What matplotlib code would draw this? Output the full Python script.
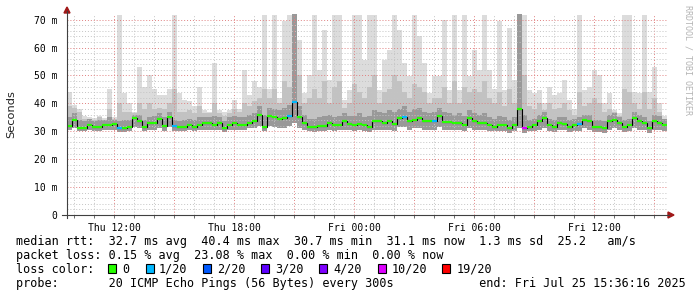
import numpy as np
import matplotlib
matplotlib.use('Agg')
import matplotlib.pyplot as plt
from matplotlib.lines import Line2D
from matplotlib.patches import Polygon, Rectangle

W, H = 697, 297
MONO = 'DejaVu Sans Mono'

# zeitachse: stunden ab Do 00:00, 15-min Schritte (120 Werte = 30 h)
t_start = 9.65
step_h = 0.25

# median rtt in ms
median = [
    32.0, 34.0, 31.1, 31.1, 32.3, 31.7, 31.7, 32.3, 32.3, 32.6,
    31.1, 31.1, 31.7, 34.7, 33.5, 31.7, 32.9, 32.9, 34.5, 32.0,
    35.0, 31.8, 31.7, 31.7, 32.3, 31.7, 32.3, 32.9, 32.9, 32.3,
    32.9, 31.1, 32.3, 32.9, 32.3, 32.3, 32.9, 33.5, 36.0, 31.5,
    35.3, 35.0, 34.5, 34.7, 35.5, 40.4, 35.0, 33.0, 31.7, 31.7,
    32.0, 32.0, 33.0, 32.3, 32.3, 33.5, 32.6, 32.3, 32.6, 32.3,
    31.7, 33.5, 33.5, 32.9, 33.5, 32.5, 34.7, 35.2, 33.5, 34.1,
    34.7, 33.5, 33.5, 33.5, 35.3, 33.4, 33.4, 32.9, 32.9, 32.3,
    34.7, 33.5, 32.9, 32.9, 32.3, 31.7, 32.3, 32.3, 31.1, 32.3,
    38.0, 31.1, 31.7, 32.3, 33.5, 34.7, 32.3, 31.7, 33.0, 32.6,
    31.7, 32.3, 32.5, 34.1, 33.5, 31.7, 31.7, 31.1, 33.5, 34.1,
    32.9, 31.7, 32.3, 34.7, 33.5, 32.9, 31.1, 33.5, 33.0, 32.3,
]

# smoke: kleinster ping, 75 %, 90 %, groesster ping (ms)
ping_min = [
    30.5, 31.0, 30.0, 30.0, 30.5, 30.0, 30.0, 30.5, 30.5, 30.5,
    29.8, 29.8, 30.0, 31.5, 31.0, 30.0, 30.5, 30.5, 31.0, 30.0,
    31.5, 30.0, 30.0, 30.0, 30.5, 30.0, 30.5, 30.5, 30.5, 30.5,
    30.5, 29.8, 30.5, 30.5, 30.5, 30.5, 31.0, 31.0, 32.0, 30.0,
    32.0, 31.5, 31.0, 31.0, 32.0, 33.0, 31.0, 30.5, 30.0, 29.8,
    30.0, 30.0, 30.5, 30.0, 30.5, 30.5, 30.5, 30.0, 30.5, 30.0,
    29.8, 30.5, 30.5, 30.5, 30.5, 30.0, 31.5, 31.5, 30.5, 31.0,
    31.0, 30.5, 30.5, 30.5, 31.5, 30.5, 30.5, 30.5, 30.5, 30.0,
    31.0, 30.5, 30.5, 30.5, 30.0, 30.0, 30.0, 30.0, 29.5, 30.0,
    31.0, 29.5, 30.0, 30.0, 30.5, 31.0, 30.0, 29.8, 30.5, 30.5,
    29.8, 30.0, 30.0, 31.0, 30.5, 29.8, 29.8, 29.5, 30.5, 31.0,
    30.5, 29.8, 30.0, 31.0, 30.5, 30.5, 29.5, 30.5, 30.5, 30.0,
]
ping_p75 = [
    35.0, 36.5, 34.0, 33.5, 34.5, 33.5, 34.0, 34.0, 35.0, 34.0,
    33.5, 34.0, 34.0, 36.0, 36.0, 34.0, 35.0, 35.5, 36.5, 35.0,
    37.0, 34.0, 33.5, 34.0, 34.5, 34.0, 35.0, 35.0, 35.0, 35.5,
    35.0, 33.5, 35.0, 35.5, 35.0, 35.0, 36.0, 36.5, 39.0, 36.0,
    38.5, 38.0, 37.5, 38.5, 39.5, 72.0, 39.0, 36.0, 34.5, 34.5,
    35.0, 35.5, 36.0, 35.0, 35.5, 36.5, 35.5, 35.5, 36.5, 35.0,
    35.5, 37.5, 37.0, 36.5, 37.5, 37.0, 38.0, 39.0, 37.0, 38.0,
    38.5, 37.0, 36.5, 37.0, 38.5, 37.0, 36.5, 36.0, 36.5, 35.5,
    37.5, 36.5, 36.0, 36.5, 35.0, 34.5, 35.5, 35.0, 34.0, 35.0,
    72.0, 36.0, 34.0, 34.5, 36.0, 37.0, 34.5, 34.0, 35.0, 35.0,
    34.0, 34.5, 35.0, 36.0, 36.0, 34.0, 34.0, 33.5, 36.0, 36.5,
    35.0, 34.0, 34.5, 37.0, 36.0, 35.0, 33.5, 36.0, 35.5, 34.5,
]
ping_p90 = [
    39.0, 38.5, 37.0, 34.5, 34.5, 34.0, 35.0, 34.0, 38.0, 34.5,
    40.0, 37.0, 37.0, 36.5, 40.0, 38.0, 40.0, 38.0, 38.5, 38.0,
    40.0, 45.0, 37.0, 37.0, 37.5, 36.5, 39.0, 36.5, 36.5, 40.0,
    36.5, 35.5, 36.5, 38.0, 37.0, 40.0, 39.0, 41.0, 42.0, 45.0,
    42.0, 45.0, 40.0, 48.0, 46.0, 72.0, 50.0, 40.0, 42.0, 45.0,
    42.0, 48.0, 40.0, 46.0, 48.0, 38.5, 40.0, 47.0, 44.0, 42.0,
    46.0, 50.0, 40.0, 44.0, 45.0, 50.0, 48.0, 44.0, 42.0, 47.0,
    46.0, 44.0, 40.0, 42.0, 42.0, 46.0, 40.0, 48.0, 40.0, 46.0,
    44.0, 45.0, 44.0, 48.0, 42.0, 40.0, 44.0, 39.0, 45.0, 40.0,
    72.0, 50.0, 39.0, 38.0, 40.0, 37.5, 40.0, 38.0, 38.5, 40.0,
    37.5, 36.0, 44.0, 39.0, 40.0, 42.0, 40.0, 37.0, 38.0, 37.0,
    35.5, 45.0, 44.0, 40.0, 38.0, 44.0, 38.0, 42.0, 37.0, 34.5,
]
ping_max = [
    44.0, 39.5, 38.0, 35.3, 35.0, 34.7, 35.3, 34.7, 45.0, 35.0,
    71.8, 43.7, 40.0, 37.0, 53.0, 46.0, 50.0, 45.0, 43.0, 43.0,
    45.0, 71.8, 43.7, 41.3, 41.0, 39.0, 46.0, 37.7, 37.0, 54.4,
    37.7, 37.0, 37.7, 41.3, 38.0, 52.0, 43.0, 47.9, 46.0, 71.8,
    45.0, 71.8, 42.0, 69.5, 71.8, 71.8, 62.8, 43.7, 50.0, 71.8,
    52.0, 66.4, 48.5, 71.8, 71.8, 41.3, 44.9, 71.8, 71.8, 55.6,
    71.8, 71.8, 44.9, 55.6, 59.0, 71.8, 66.4, 54.4, 49.7, 71.8,
    64.0, 54.4, 43.7, 49.7, 49.7, 70.0, 44.9, 71.8, 44.9, 71.8,
    49.7, 59.0, 52.0, 71.8, 52.0, 45.0, 69.5, 44.9, 67.0, 48.5,
    71.8, 71.8, 44.9, 43.7, 44.9, 40.0, 46.0, 43.0, 43.7, 48.5,
    41.3, 38.0, 71.8, 44.9, 46.0, 52.0, 50.0, 40.0, 43.7, 37.7,
    36.5, 71.8, 71.8, 44.0, 43.7, 71.8, 44.0, 53.0, 40.0, 35.3,
]

# verlust (Index der Schritte mit Paketverlust, Stufe aus der Legende)
loss_bins = [10, 21, 44, 45, 67, 73, 91, 102]
loss_level = [1, 1, 1, 1, 1, 1, 5, 1]

loss_labels = ['0', '1/20', '2/20', '3/20', '4/20', '10/20', '19/20']
loss_colors = ['#26ff00', '#00b8ff', '#0059ff', '#5e00ff', '#7e00ff', '#dd00ff', '#ff0000']

x_ticks = [12, 18, 24, 30, 36]
x_tick_labels = ['Thu 12:00', 'Thu 18:00', 'Fri 00:00', 'Fri 06:00', 'Fri 12:00']
y_ticks = [0, 10, 20, 30, 40, 50, 60, 70]
y_tick_labels = ['0', '10 m', '20 m', '30 m', '40 m', '50 m', '60 m', '70 m']

legend_lines = [
    'median rtt:  32.7 ms avg  40.4 ms max  30.7 ms min  31.1 ms now  1.3 ms sd  25.2   am/s',
    'packet loss: 0.15 % avg  23.08 % max  0.00 % min  0.00 % now',
    'loss color:',
    'probe:       20 ICMP Echo Pings (56 Bytes) every 300s            end: Fri Jul 25 15:36:16 2025',
]

n = len(median)
edges = t_start + step_h * np.arange(n + 1)
t_end = edges[-1]
y_top = 72.0


def px(x, y):
    # pixel -> figure coords
    return x / W, 1 - y / H


fig = plt.figure(figsize=(W / 100, H / 100), dpi=100)
fig.patch.set_facecolor('white')
ax = fig.add_axes([67 / W, (H - 215) / H, 600 / W, 201 / H])
ax.set_xlim(t_start, t_end)
ax.set_ylim(0, y_top)
for s in ax.spines.values():
    s.set_visible(False)

# smoke
ax.stairs(ping_max, edges, baseline=ping_min, fill=True, color='#dcdcdc', lw=0, zorder=1)
ax.stairs(ping_p90, edges, baseline=ping_min, fill=True, color='#c2c2c2', lw=0, zorder=1.1)
ax.stairs(ping_p75, edges, baseline=ping_min, fill=True, color='#999999', lw=0, zorder=1.2)

# gitter
for h in np.arange(np.ceil(t_start), t_end, 1.0):
    if h % 3 == 0:
        ax.axvline(h, color='#e08080', lw=0.7, ls=(0, (1, 2)), zorder=2)
    else:
        ax.axvline(h, color='#c4c4c4', lw=0.7, ls=(0, (1, 2)), zorder=2)
for v in range(2, 72, 2):
    if v % 10 == 0:
        ax.axhline(v, color='#e08080', lw=0.7, ls=(0, (1, 2)), zorder=2)
    else:
        ax.axhline(v, color='#c4c4c4', lw=0.7, ls=(0, (1, 2)), zorder=2)

# median
ax.stairs(median, edges, baseline=None, color='black', lw=0.8, zorder=3)
seg_colors = [loss_colors[0]] * n
for i, lv in zip(loss_bins, loss_level):
    seg_colors[i] = loss_colors[lv]
ax.hlines(median, edges[:-1], edges[1:], colors=seg_colors, lw=1.6, zorder=4)

ax.set_xticks(x_ticks)
ax.set_xticklabels(x_tick_labels, fontfamily=MONO, fontsize=7)
ax.set_xticks(np.arange(10, 40, 1), minor=True)
ax.tick_params(axis='x', which='both', length=2, width=0.6, color='#555555', pad=4)
ax.set_yticks(y_ticks)
ax.set_yticklabels(y_tick_labels, fontfamily=MONO, fontsize=7)
ax.tick_params(axis='y', length=0, pad=7)

# achsen mit pfeilen
fig.add_artist(Line2D(*zip(px(67, 218), px(67, 11)), color='#404040', lw=0.8))
fig.add_artist(Line2D(*zip(px(62, 215), px(669, 215)), color='#404040', lw=0.8))
fig.add_artist(Polygon([px(67, 7), px(64, 13), px(70, 13)], closed=True,
                       transform=fig.transFigure, color='#a01818'))
fig.add_artist(Polygon([px(674, 215), px(668, 212), px(668, 218)], closed=True,
                       transform=fig.transFigure, color='#a01818'))

fig.text(*px(11, 114), 'Seconds', rotation=90, ha='center', va='center',
         fontfamily='DejaVu Sans', fontsize=8.2, color='#222222')
fig.text(*px(688, 60), 'RRDTOOL / TOBI OETIKER', rotation=270, ha='center', va='center',
         fontfamily=MONO, fontsize=6, color='#b4b4b4')

# legende
base_y = [245, 259, 273, 287]
for line, by in zip(legend_lines, base_y):
    fig.text(*px(16, by), line, fontfamily=MONO, fontsize=8.5, va='baseline', color='black')

sq_x = [108, 146, 203, 261, 319, 378, 442]
lab_x = [122, 159, 217, 275, 333, 392, 457]
for c, lab, sx, lx in zip(loss_colors, loss_labels, sq_x, lab_x):
    x0, y0 = px(sx, 273)
    fig.add_artist(Rectangle((x0, y0), 8 / W, 9 / H, transform=fig.transFigure,
                             facecolor=c, edgecolor='black', lw=0.8))
    fig.text(*px(lx, 273), lab, fontfamily=MONO, fontsize=8.5, va='baseline')

fig.savefig('out.png', dpi=100, facecolor='white')
